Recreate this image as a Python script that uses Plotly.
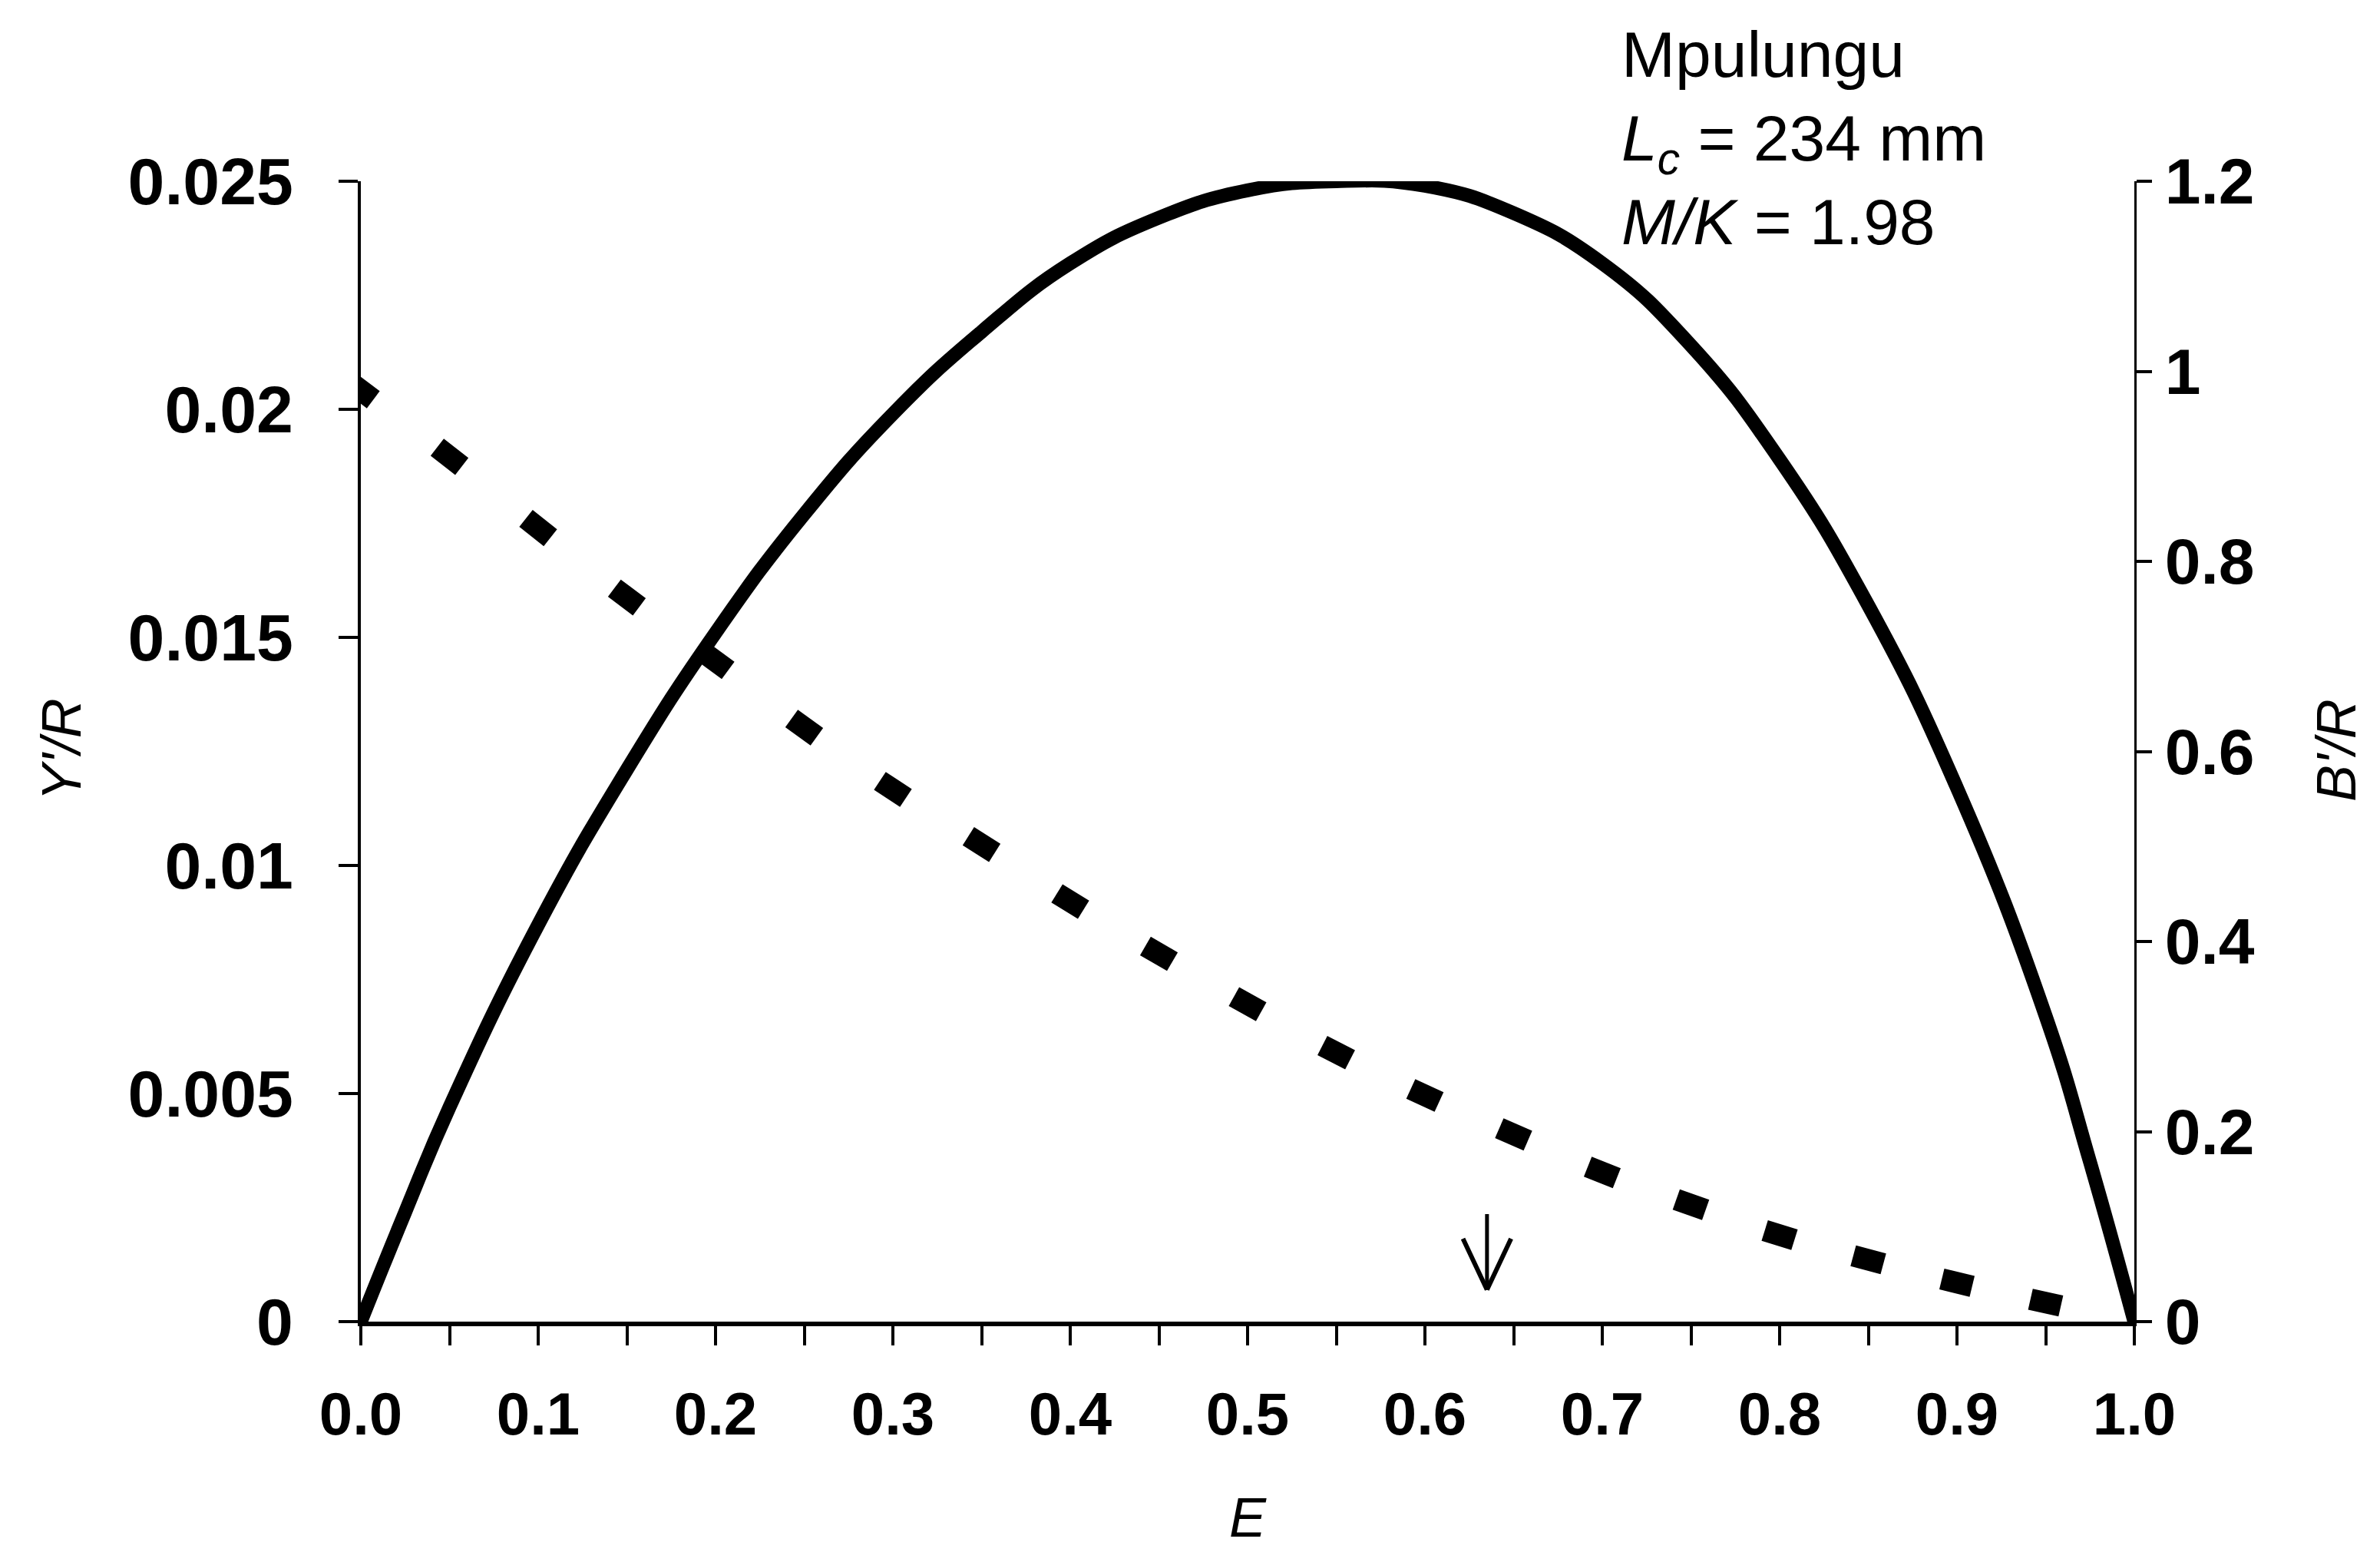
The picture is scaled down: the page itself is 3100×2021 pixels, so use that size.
import numpy as np
import plotly.graph_objects as go

# ---------------- data ----------------
E_yield = [0.0, 0.025, 0.05, 0.10, 0.15, 0.20, 0.25, 0.30, 0.35, 0.40, 0.45, 0.50,
           0.55, 0.60, 0.65, 0.70, 0.75, 0.80, 0.85, 0.90, 0.95, 0.975, 1.0]
Y_per_R = [0.0, 0.0024, 0.0047, 0.0087, 0.0121, 0.0151, 0.0177, 0.0199, 0.0217, 0.0232,
           0.0242, 0.0248, 0.0250, 0.0249, 0.0243, 0.0232, 0.0214, 0.0189, 0.0157,
           0.0117, 0.0067, 0.0035, 0.0]

E_biomass = [0.0, 0.05, 0.10, 0.15, 0.20, 0.25, 0.30, 0.35, 0.40, 0.45, 0.50,
             0.55, 0.60, 0.65, 0.70, 0.75, 0.80, 0.85, 0.90, 0.95]
B_per_R = [0.98, 0.91, 0.835, 0.762, 0.695, 0.625, 0.56, 0.502, 0.442, 0.387, 0.334,
           0.283, 0.238, 0.197, 0.157, 0.123, 0.091, 0.065, 0.041, 0.020]

E_optimum = 0.635      # position of the arrow
Y_arrow_tip = 0.0007   # arrow tip height (Y'/R units)

x_ticks = [0.0, 0.1, 0.2, 0.3, 0.4, 0.5, 0.6, 0.7, 0.8, 0.9, 1.0]
y_left_ticks = [0, 0.005, 0.01, 0.015, 0.02, 0.025]
y_left_text = ["0", "0.005", "0.01", "0.015", "0.02", "0.025"]
y_right_ticks = [0, 0.2, 0.4, 0.6, 0.8, 1.0, 1.2]
y_right_text = ["0", "0.2", "0.4", "0.6", "0.8", "1", "1.2"]

site = "Mpulungu"
Lc_mm = 234
M_over_K = 1.98

# ---------------- layout geometry ----------------
W, H = 3100, 2021
ML, MR, MT, MB = 462, 328, 228, 308
PW, PH = W - ML - MR, H - MT - MB
YL_MAX, YR_MAX = 0.025, 1.2

FONT = "Liberation Sans, Arial, sans-serif"

# dash orientation follows the local slope of the B'/R curve (in pixel space)
slope = np.gradient(np.array(B_per_R), np.array(E_biomass))
angles = np.degrees(np.arctan(-slope * (PH / YR_MAX) / PW))

fig = go.Figure()

fig.add_trace(go.Scatter(
    x=E_yield, y=Y_per_R, mode="lines",
    line=dict(color="black", width=18, shape="spline", smoothing=1.3),
    cliponaxis=False, showlegend=False, yaxis="y"))

fig.add_trace(go.Scatter(
    x=E_biomass, y=B_per_R, mode="markers",
    marker=dict(symbol="line-ew", size=29, angle=angles,
                line=dict(color="black", width=28)),
    showlegend=False, yaxis="y2"))

axis_common = dict(showgrid=False, zeroline=False, showline=True, linecolor="black",
                   ticks="outside", tickcolor="black", tickwidth=4)

fig.update_layout(
    width=W, height=H,
    margin=dict(l=ML, r=MR, t=MT, b=MB),
    paper_bgcolor="white", plot_bgcolor="white",
    font=dict(family=FONT, color="black"),
    xaxis=dict(range=[0, 1], tickvals=x_ticks, tickformat=".1f",
               linewidth=6, ticklen=25, ticklabelstandoff=22,
               tickfont=dict(family=FONT, size=78, weight="bold"),
               minor=dict(dtick=0.05, ticks="outside", ticklen=25, tickwidth=4,
                          tickcolor="black"),
               **axis_common),
    yaxis=dict(range=[0, YL_MAX], tickvals=y_left_ticks, ticktext=y_left_text,
               linewidth=4, ticklen=25, ticklabelstandoff=42,
               tickfont=dict(family=FONT, size=86, weight="bold"),
               **axis_common),
    yaxis2=dict(range=[0, YR_MAX], tickvals=y_right_ticks, ticktext=y_right_text,
                overlaying="y", side="right", linewidth=3, ticklen=20,
                ticklabelstandoff=0,
                tickfont=dict(family=FONT, size=84, weight="bold"),
                **axis_common),
)

annotations = [
    # x title
    dict(text="<i>E</i>", xref="paper", yref="paper", x=(1617 - ML) / PW,
         y=(MT + PH - 1968) / PH, showarrow=False,
         font=dict(family=FONT, size=72), xanchor="center", yanchor="middle"),
    # left title
    dict(text="<i>Y'/R</i>", xref="paper", yref="paper", x=(72 - ML) / PW,
         y=(MT + PH - 968) / PH, showarrow=False, textangle=-90,
         font=dict(family=FONT, size=72), xanchor="center", yanchor="middle"),
    # right title
    dict(text="<i>B'/R</i>", xref="paper", yref="paper", x=(3035 - ML) / PW,
         y=(MT + PH - 969) / PH, showarrow=False, textangle=-90,
         font=dict(family=FONT, size=72), xanchor="center", yanchor="middle"),
    # info block
    dict(text=(f"{site}<br><i>L</i><sub><i>c</i></sub> = {Lc_mm} mm"
               f"<br><i>M/K</i> = {M_over_K}"),
         xref="paper", yref="paper", x=(2102 - ML) / PW, y=(MT + PH - 14) / PH,
         showarrow=False, align="left", xanchor="left", yanchor="top",
         font=dict(family=FONT, size=84)),
]

# arrow marking E optimum: shaft plus the two arms of an open head
for ax_off, ay_off, w in [(0, -100, 5), (-32, -68, 6), (32, -68, 6)]:
    annotations.append(dict(
        text="", x=E_optimum, y=Y_arrow_tip, xref="x", yref="y",
        showarrow=True, ax=ax_off, ay=ay_off, arrowhead=0, arrowwidth=w,
        arrowcolor="black", standoff=0, startstandoff=0))

fig.update_layout(annotations=annotations)

fig.write_html("out.html")
